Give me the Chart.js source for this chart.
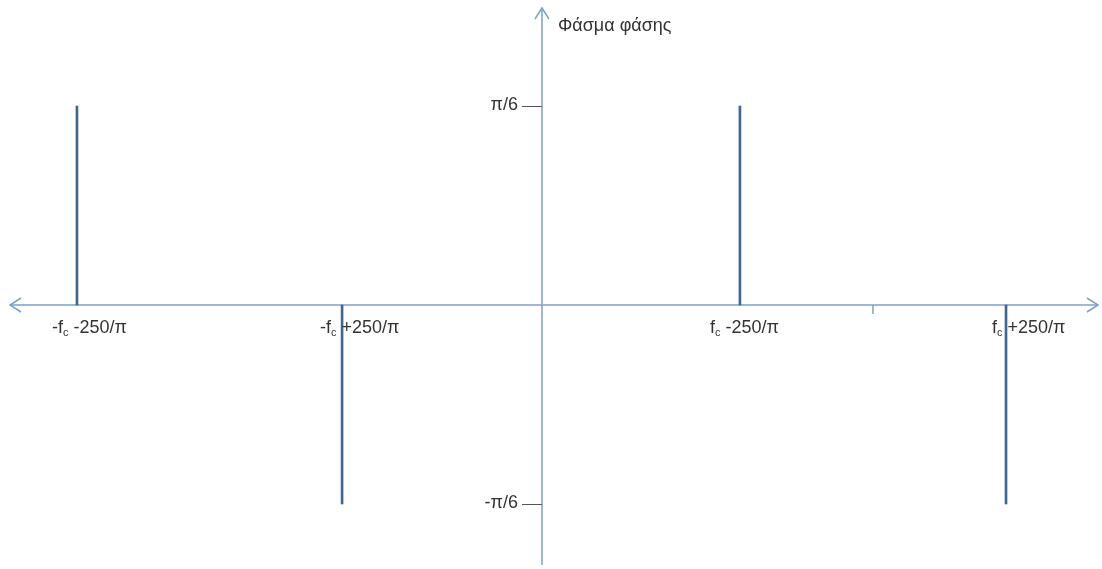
<!DOCTYPE html>
<html>
<head>
<meta charset="utf-8">
<title>Φάσμα φάσης</title>
<script src="https://cdn.jsdelivr.net/npm/chart.js@4.4.1/dist/chart.umd.min.js"></script>
<style>
  html, body { margin: 0; padding: 0; background: #fff; }
  #wrap { width: 1102px; height: 569px; }
</style>
</head>
<body>
<div id="wrap"><canvas id="phaseChart" width="1102" height="569"></canvas></div>
<script>
// phase spectrum lines: frequency positions and phase values
const freqs = [-281, -120.8, 119.6, 280.4];
const phases = [Math.PI / 6, -Math.PI / 6, Math.PI / 6, -Math.PI / 6];
const freqLabels = [['-f', 'c', ' -250/π'], ['-f', 'c', ' +250/π'], ['f', 'c', ' -250/π'], ['f', 'c', ' +250/π']];
const phaseTicks = [Math.PI / 6, -Math.PI / 6];
const phaseTickLabels = ['π/6', '-π/6'];
const carrier = 200;
const title = 'Φάσμα φάσης';

const axisColor = '#7f9fcb';
const stemColor = '#3f6795';
const textColor = '#333';
const font = '18px "Liberation Sans", Arial, sans-serif';
const titleFont = '18px "Liberation Sans", Arial, sans-serif';
const subFont = '11px "Liberation Sans", Arial, sans-serif';

function arrow(ctx, x, y, dx, dy) {
  // open arrow head pointing in (dx, dy)
  const len = 11, spread = 7;
  const px = -dy, py = dx;
  ctx.beginPath();
  ctx.moveTo(x - dx * len + px * spread, y - dy * len + py * spread);
  ctx.lineTo(x, y);
  ctx.lineTo(x - dx * len - px * spread, y - dy * len - py * spread);
  ctx.stroke();
}

const axesPlugin = {
  id: 'axes',
  beforeDatasetsDraw(chart) {
    const { ctx, scales: { x, y } } = chart;
    const x0 = x.getPixelForValue(0);
    const y0 = y.getPixelForValue(0);
    ctx.save();
    ctx.strokeStyle = axisColor;
    ctx.lineWidth = 1.5;
    ctx.beginPath();
    ctx.moveTo(10, y0); ctx.lineTo(1098, y0);
    ctx.moveTo(x0, 565); ctx.lineTo(x0, 8);
    ctx.stroke();
    arrow(ctx, 10, y0, -1, 0);
    arrow(ctx, 1098, y0, 1, 0);
    arrow(ctx, x0, 8, 0, -1);

    // carrier tick on the frequency axis
    const xc = x.getPixelForValue(carrier);
    ctx.beginPath();
    ctx.moveTo(xc, y0); ctx.lineTo(xc, y0 + 9);
    ctx.stroke();

    // phase ticks
    ctx.strokeStyle = '#555';
    ctx.lineWidth = 1;
    ctx.font = font;
    ctx.fillStyle = textColor;
    ctx.textAlign = 'right';
    ctx.textBaseline = 'middle';
    phaseTicks.forEach((v, i) => {
      const py = Math.round(y.getPixelForValue(v)) + 0.5;
      ctx.beginPath();
      ctx.moveTo(x0 - 20, py); ctx.lineTo(x0, py);
      ctx.stroke();
      ctx.fillText(phaseTickLabels[i], x0 - 24, py - 1);
    });

    ctx.font = titleFont;
    ctx.textAlign = 'left';
    ctx.fillText(title, x0 + 16, 26);
    ctx.restore();
  },
  afterDatasetsDraw(chart) {
    const { ctx, scales: { x, y } } = chart;
    const y0 = y.getPixelForValue(0);
    const offsets = [-25, -22, -30, -14];
    ctx.save();
    ctx.fillStyle = textColor;
    ctx.textBaseline = 'alphabetic';
    ctx.textAlign = 'left';
    freqs.forEach((f, i) => {
      const [a, sub, b] = freqLabels[i];
      let px = x.getPixelForValue(f) + offsets[i];
      const base = y0 + 28;
      ctx.font = font;
      ctx.fillText(a, px, base);
      px += ctx.measureText(a).width;
      ctx.font = subFont;
      ctx.fillText(sub, px, base + 3);
      px += ctx.measureText(sub).width;
      ctx.font = font;
      ctx.fillText(b, px, base);
    });
    ctx.restore();
  }
};

new Chart(document.getElementById('phaseChart'), {
  type: 'bar',
  data: {
    datasets: [{
      data: freqs.map((f, i) => ({ x: f, y: phases[i] })),
      backgroundColor: stemColor,
      borderWidth: 0,
      barThickness: 2
    }]
  },
  options: {
    responsive: false,
    animation: false,
    layout: { padding: 0 },
    plugins: { legend: { display: false }, tooltip: { enabled: false } },
    scales: {
      x: { type: 'linear', min: -327.5, max: 338.4, offset: false, display: false },
      y: { type: 'linear', min: -0.6947, max: 0.8026, display: false }
    }
  },
  plugins: [axesPlugin]
});
</script>
</body>
</html>
